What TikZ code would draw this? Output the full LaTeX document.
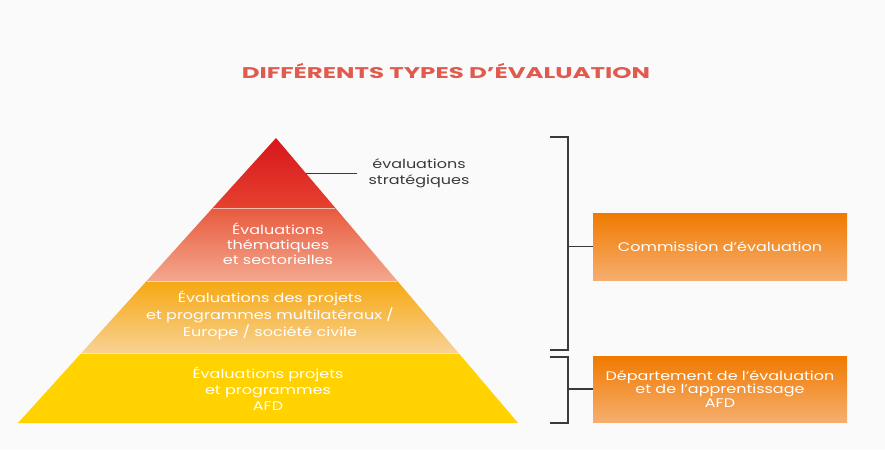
\documentclass[tikz,border=0pt]{standalone}
\usepackage{fontspec}
\setmainfont{Poppins}
\newfontfamily\widefont{Poppins}[FakeStretch=1.28]
\newfontfamily\titlefont{Poppins}[FakeStretch=1.58]
\definecolor{bgcol}{HTML}{FAFAFA}
\definecolor{titlecol}{HTML}{E05A4E}
\definecolor{redtop}{HTML}{D8161C}
\definecolor{redbot}{HTML}{E6412F}
\definecolor{saltop}{HTML}{E85A3E}
\definecolor{salbot}{HTML}{F3A88E}
\definecolor{ortop}{HTML}{F6A812}
\definecolor{orbot}{HTML}{F8D294}
\definecolor{yel}{HTML}{FFD200}
\definecolor{boxtop}{HTML}{F07A00}
\definecolor{boxbot}{HTML}{F6AE6E}
\definecolor{brack}{HTML}{3A3A3A}
\tikzset{
  tiertext/.style={text=white, align=center, font=\widefont\fontsize{12.5}{15}\selectfont},
  sidebox/.style={minimum width=254pt, text=white, align=center, top color=boxtop, bottom color=boxbot, font=\widefont\fontsize{12.5}{13.5}\selectfont},
  brackline/.style={draw=brack, line width=1.2pt},
  sep/.style={draw=white, line width=1.5pt, opacity=0.6}
}
\begin{document}
\begin{tikzpicture}[x=1pt, y=-1pt]
    \fill[bgcol] (0, 0) rectangle (885, 450);
    \useasboundingbox (0, 0) rectangle (885, 450);
    \node[text=titlecol, font=\titlefont\fontsize{15.5}{18}\selectfont\bfseries] (title) at (446, 71) {DIFFÉRENTS TYPES D’ÉVALUATION};
    \shade[top color=redtop, bottom color=redbot] (276, 138) -- (335.4, 208) -- (212.6, 208) -- cycle;
    \shade[top color=saltop, bottom color=salbot] (212.6, 208) -- (335.4, 208) -- (397.4, 281) -- (146.6, 281) -- cycle;
    \shade[top color=ortop, bottom color=orbot] (146.6, 281) -- (397.4, 281) -- (458.5, 353) -- (81.4, 353) -- cycle;
    \fill[yel] (81.4, 353) -- (458.5, 353) -- (518, 423) -- (18, 423) -- cycle;
    \draw[sep] (212.6, 208.5) -- (335.4, 208.5);
    \draw[sep] (146.6, 281.5) -- (397.4, 281.5);
    \draw[sep] (81.4, 353.5) -- (458.5, 353.5);
    \coordinate (edge) at (305.7, 173);
    \node[align=center, text=brack, font=\widefont\fontsize{12.5}{16}\selectfont] (strat) at (419, 173) {évaluations\\stratégiques};
    \draw[brackline, line width=1pt] (edge) -- ([xshift=-8pt]strat.west);
    \node[tiertext] (them) at (278, 244) {Évaluations\\thématiques\\et sectorielles};
    \node[tiertext, font=\widefont\fontsize{12.5}{17}\selectfont] (multi) at (270, 315) {Évaluations des projets\\et programmes multilatéraux /\\Europe / société civile};
    \node[tiertext, font=\widefont\fontsize{12.5}{16}\selectfont] (afd) at (268, 389) {Évaluations projets\\et programmes\\AFD};
    \node[sidebox, minimum height=67pt] (comm) at (720, 246.5) {Commission d’évaluation};
    \node[sidebox, minimum height=66pt] (dep) at (720, 389) {Département de l’évaluation\\et de l’apprentissage\\AFD};
    \coordinate (b1a) at (550, 137);
    \coordinate (b1b) at (550, 350);
    \coordinate (b2a) at (550, 357);
    \coordinate (b2b) at (550, 423);
    \draw[brackline] (b1a) -- ++(18, 0) |- (b1b);
    \draw[brackline] (b2a) -- ++(18, 0) |- (b2b);
    \draw[brackline] (568, 0 |- comm.west) -- (comm.west);
    \draw[brackline] (568, 0 |- dep.west) -- (dep.west);
\end{tikzpicture}
\end{document}
